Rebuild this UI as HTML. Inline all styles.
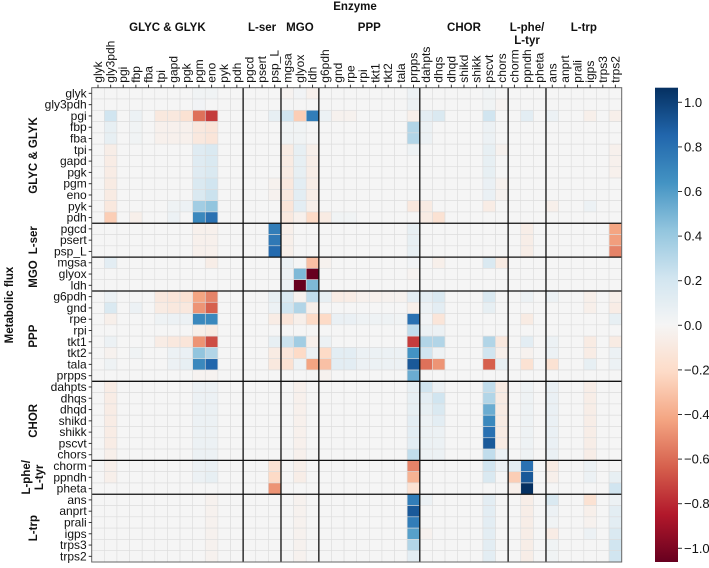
<!DOCTYPE html>
<html><head><meta charset="utf-8"><style>
html,body{margin:0;padding:0;background:#fff;}
svg text{font-family:"Liberation Sans Narrow","Liberation Sans",sans-serif;fill:#111;}
.b{font-weight:bold;font-family:"Liberation Sans",sans-serif;}
</style></head><body>
<svg id="chart" width="709" height="563" xmlns="http://www.w3.org/2000/svg"></svg>
<script>
const enzymes = ["glyk","gly3pdh","pgi","fbp","fba","tpi","gapd","pgk","pgm","eno","pyk","pdh","pgcd","psert","psp_L","mgsa","glyox","ldh","g6pdh","gnd","rpe","rpi","tkt1","tkt2","tala","prpps","dahpts","dhqs","dhqd","shikd","shikk","pscvt","chors","chorm","ppndh","pheta","ans","anprt","prali","igps","trps3","trps2"];
const fluxes = enzymes.slice();
const colGroups = [["GLYC & GLYK",0,12],["L-ser",12,15],["MGO",15,18],["PPP",18,26],["CHOR",26,33],["L-phe/\nL-tyr",33,36],["L-trp",36,42]];
const rowGroups = [["GLYC & GLYK",0,12],["L-ser",12,15],["MGO",15,18],["PPP",18,26],["CHOR",26,33],["L-phe/\nL-tyr",33,36],["L-trp",36,42]];
const colorTicks = [1.0,0.8,0.6,0.4,0.2,0.0,-0.2,-0.4,-0.6,-0.8,-1.0];
// sparse entries per row: [col, value]
const rowEntries = [
 [[8,.03],[9,.03],[15,-.02],[16,.02],[17,-.04],[25,.05],[31,.03]],
 [[8,.02],[25,.05],[31,.03],[32,-.02]],
 [[1,.2],[3,.05],[5,-.1],[6,-.1],[7,-.15],[8,-.55],[9,-.7],[14,.08],[15,.2],[16,-.25],[17,.7],[18,.05],[19,-.03],[20,-.03],[25,-.05],[26,.1],[27,.15],[31,.2],[34,.1],[36,.05],[39,-.05],[41,-.05]],
 [[1,.08],[3,.03],[5,-.04],[6,-.04],[7,-.04],[8,-.1],[9,-.12],[15,.03],[16,.03],[25,.3],[26,.05],[31,.05]],
 [[1,.08],[3,.03],[5,-.04],[6,-.04],[7,-.04],[8,-.1],[9,-.12],[15,.03],[16,.03],[25,.3],[26,.05],[31,.05]],
 [[1,-.06],[8,.12],[9,.15],[15,-.08],[16,.08],[17,-.05],[25,.04],[31,.08],[32,-.03],[41,-.04]],
 [[1,-.07],[8,.12],[9,.15],[15,-.08],[16,.08],[17,-.06],[31,.08],[41,-.04]],
 [[1,-.07],[8,.12],[9,.15],[15,-.08],[16,.08],[17,-.06],[31,.08],[41,-.04]],
 [[1,-.08],[8,.15],[9,.2],[14,-.03],[15,-.1],[16,.1],[17,-.06],[31,.06],[32,-.03]],
 [[1,-.08],[8,.15],[9,.22],[14,-.03],[15,-.1],[16,.1],[17,-.06],[31,.06],[32,-.03]],
 [[1,-.1],[6,.04],[7,.05],[8,.35],[9,.4],[15,-.12],[16,.1],[17,-.05],[25,-.1],[26,-.08],[31,-.07],[36,-.05],[39,.05]],
 [[1,-.25],[3,-.05],[6,.05],[8,.65],[9,.75],[15,-.1],[16,-.04],[17,-.2],[18,-.08],[19,.03],[20,.03],[26,-.08],[27,-.15]],
 [[8,-.04],[9,-.04],[14,.7],[15,-.05],[25,.08],[34,-.06],[41,-.4]],
 [[8,-.04],[9,-.04],[14,.72],[15,-.05],[25,.08],[34,-.06],[41,-.42]],
 [[8,-.04],[9,-.04],[14,.78],[15,-.05],[25,.08],[34,-.06],[41,-.5]],
 [[1,.1],[9,-.06],[15,.05],[17,-.3],[18,-.03],[25,.02],[27,-.05],[31,.15],[32,-.08]],
 [[15,.05],[16,.45],[17,-1.0],[25,-.02]],
 [[15,.05],[16,-1.0],[17,.45]],
 [[1,.05],[5,-.1],[6,-.12],[7,-.15],[8,-.4],[9,-.5],[14,.08],[15,.15],[16,-.03],[17,.25],[18,.08],[19,-.07],[20,-.07],[21,-.04],[22,-.04],[23,-.03],[24,-.03],[25,.1],[26,.1],[27,.15],[31,.15],[34,.05],[36,.05],[39,-.05],[41,-.05]],
 [[1,.15],[3,.05],[5,-.08],[6,-.1],[7,-.1],[8,-.45],[9,-.6],[14,.05],[15,.2],[16,.3],[17,-.05],[25,-.05],[26,.05],[27,.1],[31,.08],[39,-.05],[41,-.07]],
 [[1,-.05],[5,.04],[6,.05],[7,.05],[8,.65],[9,.65],[14,-.07],[15,-.12],[16,-.05],[17,-.2],[18,-.2],[19,.06],[20,.06],[21,.04],[22,.04],[23,.04],[24,.03],[25,.75],[26,.02],[27,-.12],[34,-.08],[41,.08]],
 [[8,-.05],[9,-.08],[25,.25],[26,.05],[27,.05]],
 [[1,.05],[5,-.07],[6,-.1],[7,-.12],[8,-.45],[9,-.65],[14,.08],[15,.22],[16,.35],[17,-.04],[18,.05],[25,-.7],[26,.3],[27,.3],[31,.3],[32,-.1],[34,.1],[36,.05],[39,-.08],[41,-.08]],
 [[1,-.03],[3,.03],[6,.05],[7,.06],[8,.4],[9,.3],[14,-.08],[15,-.12],[16,-.2],[17,.05],[18,-.2],[19,.1],[20,.1],[21,.05],[22,.05],[23,.05],[24,.05],[25,.6],[26,.2],[27,.04],[31,.2],[32,-.05],[34,-.03],[36,.05],[39,-.07],[41,.05]],
 [[1,.04],[6,.05],[7,.08],[8,.65],[9,.8],[14,-.1],[15,-.15],[16,.04],[17,-.4],[18,-.3],[19,.1],[20,.1],[21,.05],[22,.05],[23,.05],[24,.05],[25,.85],[26,-.55],[27,-.45],[31,-.6],[32,.08],[34,-.15],[36,-.15],[39,.08],[41,.05]],
 [[8,-.02],[9,-.02],[18,-.03],[25,.5]],
 [[1,-.07],[8,.05],[9,.05],[16,-.04],[25,.08],[26,.2],[27,.05],[31,.25],[32,-.08],[34,.04],[36,.06],[39,-.06]],
 [[1,-.07],[8,.05],[9,.05],[16,-.04],[25,.08],[26,.1],[27,.2],[31,.3],[32,-.08],[34,.04],[36,.06],[39,-.06]],
 [[1,-.07],[8,.05],[9,.05],[16,-.04],[25,.08],[26,.08],[27,.15],[31,.5],[32,-.08],[34,.04],[36,.06],[39,-.06]],
 [[1,-.07],[8,.05],[9,.05],[16,-.04],[25,.1],[26,.05],[27,.1],[31,.65],[32,-.08],[34,.04],[36,.06],[39,-.06]],
 [[1,-.07],[8,.05],[9,.05],[16,-.04],[25,.1],[26,.05],[27,.05],[31,.75],[32,-.08],[34,.04],[36,.06],[39,-.06]],
 [[1,-.07],[8,.05],[9,.05],[16,-.04],[25,.1],[26,.05],[27,.05],[31,.85],[32,-.08],[34,.04],[36,.06],[39,-.06]],
 [[1,-.05],[8,.05],[9,.05],[16,-.04],[25,.25],[26,.05],[27,.05],[31,.25],[32,.05],[34,.04],[36,.06],[39,-.06]],
 [[1,-.05],[8,.05],[9,.06],[14,-.15],[16,-.05],[25,-.5],[31,.2],[32,.05],[33,.1],[34,.75],[36,-.08],[39,.05]],
 [[1,-.05],[8,.05],[9,.08],[14,-.2],[16,-.06],[25,-.35],[31,.15],[33,-.25],[34,.85],[36,-.05],[39,.05],[41,.08]],
 [[14,-.45],[25,-.15],[33,-.05],[34,1.05],[41,.2]],
 [[9,-.03],[16,-.03],[25,.7],[26,.05],[31,.1],[34,-.06],[36,.15],[39,-.15],[41,.05]],
 [[9,-.03],[16,-.03],[25,.85],[31,.1],[34,-.06],[36,.05],[39,-.05],[41,.1]],
 [[9,-.03],[16,-.03],[25,.7],[31,.1],[34,-.06],[36,.03],[39,-.03],[41,.1]],
 [[9,-.03],[16,-.03],[25,.55],[26,-.03],[31,.1],[34,-.06],[36,-.07],[39,.05],[41,.15]],
 [[9,-.03],[16,-.03],[25,.3],[31,.1],[34,-.06],[36,.03],[41,.2]],
 [[9,-.03],[16,-.03],[25,.1],[31,.1],[34,-.06],[36,.03],[41,.2]]
];

const NS="http://www.w3.org/2000/svg";
const svg=document.getElementById('chart');
const X0=91.7,Y0=87.7,W=530,H=474.3,n=42;
const cw=W/n,ch=H/n;
const xPos=i=>X0+i*cw, yPos=j=>Y0+j*ch;
const stops=[[103,0,31],[178,24,43],[214,96,77],[244,165,130],[253,219,199],[245,245,245],[209,229,240],[146,197,222],[67,147,195],[33,102,172],[5,48,97]];
function color(v){let t=(Math.max(-1,Math.min(1,v))+1)/2*10;let i=Math.min(9,Math.floor(t));let f=t-i;const a=stops[i],b=stops[i+1];return `rgb(${a.map((c,k)=>Math.round(c+(b[k]-c)*f)).join(',')})`;}
function mk(tag,attrs,parent){const e=document.createElementNS(NS,tag);for(const k in attrs)e.setAttribute(k,attrs[k]);(parent||svg).appendChild(e);return e;}

const gCells=mk('g',{});


for(let r=0;r<n;r++){const vals=new Array(n).fill(0);rowEntries[r].forEach(([c,v])=>vals[c]=v);
 for(let c=0;c<n;c++){const e=mk('rect',{x:xPos(c),y:yPos(r),width:cw,height:ch,fill:color(vals[c]),stroke:'#dcdcdc','stroke-width':0.6},gCells);
  
  }}
// group lines
[12,15,18,26,33,36].forEach(k=>{
 const l1=mk('line',{x1:xPos(k),x2:xPos(k),y1:Y0,y2:Y0+H,stroke:'#111','stroke-width':1.3});
 
 
 const l2=mk('line',{x1:X0,x2:X0+W,y1:yPos(k),y2:yPos(k),stroke:'#111','stroke-width':1.3});
 
 });
const fr=mk('rect',{x:X0,y:Y0,width:W,height:H,fill:'none',stroke:'#666','stroke-width':1});


// col labels
enzymes.forEach((s,i)=>{const x=xPos(i)+cw/2;
 mk('line',{x1:x,x2:x,y1:Y0-3,y2:Y0,stroke:'#333'});
 const t=mk('text',{x:0,y:0,transform:`translate(${x+4},${Y0-5}) rotate(-90)`,'font-size':12});t.textContent=s;
 
 });
fluxes.forEach((s,i)=>{const y=yPos(i)+ch/2;
 mk('line',{x1:X0-3,x2:X0,y1:y,y2:y,stroke:'#333'});
 const t=mk('text',{x:X0-5,y:y+4,'text-anchor':'end','font-size':12});t.textContent=s;
 
 });
colGroups.forEach(([s,a,b])=>{const x=(xPos(a)+xPos(b))/2;const lines=s.split('\n');
 lines.forEach((ln,k)=>{const t=mk('text',{x:x,y:31+k*13,'text-anchor':'middle','font-size':11.5,class:'b'});t.textContent=ln;
 
 });});
rowGroups.forEach(([s,a,b])=>{const y=(yPos(a)+yPos(b))/2;const lines=s.split('\n');
 lines.forEach((ln,k)=>{const xx=lines.length>1?30+k*13:37;const t=mk('text',{x:0,y:0,transform:`translate(${xx},${y}) rotate(-90)`,'text-anchor':'middle','font-size':11.5,class:'b'});t.textContent=ln;
 
 });});
let t=mk('text',{x:355,y:10,'text-anchor':'middle','font-size':11.5,class:'b'});t.textContent='Enzyme';


t=mk('text',{x:0,y:0,transform:'translate(13,305) rotate(-90)','text-anchor':'middle','font-size':11.5,class:'b'});t.textContent='Metabolic flux';


// colorbar
const cbX=655,cbW=23,cbTop=87.7,cbBot=562;
const vy=v=>325.3-v*223;
const defs=mk('defs',{});const grad=mk('linearGradient',{id:'cg',x1:0,y1:1,x2:0,y2:0},defs);
stops.forEach((s,i)=>mk('stop',{offset:(i/10),'stop-color':`rgb(${s.join(',')})`},grad));
const cb=mk('rect',{x:cbX,y:cbTop,width:cbW,height:cbBot-cbTop,fill:'url(#cg)'});


colorTicks.forEach(v=>{const y=vy(v);mk('line',{x1:cbX+cbW,x2:cbX+cbW+4,y1:y,y2:y,stroke:'#333'});
 const tt=mk('text',{x:cbX+cbW+6,y:y+4.5,'font-size':13});tt.textContent=(v<0?'\u2212':'')+Math.abs(v).toFixed(1);
 
 });
</script>
</body></html>
